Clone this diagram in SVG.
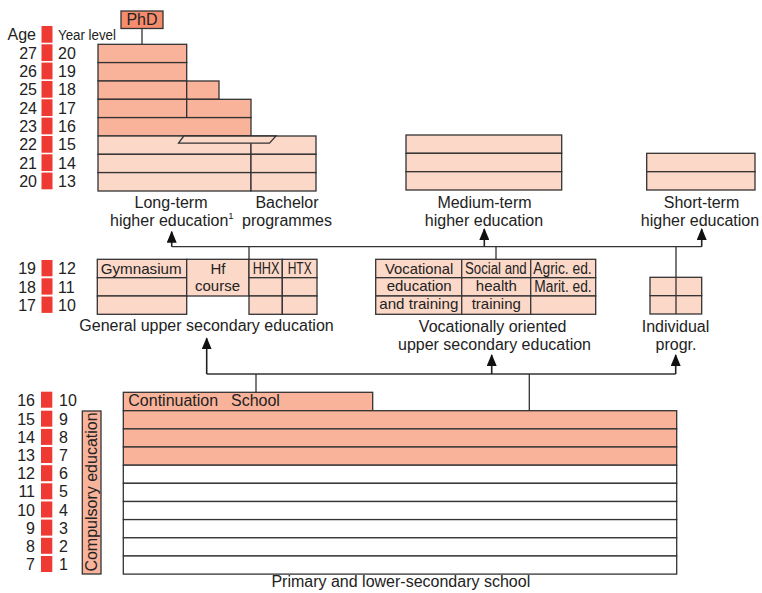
<svg xmlns="http://www.w3.org/2000/svg" width="762" height="593" viewBox="0 0 762 593">
<style>
text{font-family:"Liberation Sans",Arial,sans-serif;font-size:16px;fill:#222}
.s{font-size:15px}
.c{text-anchor:middle}
.r{text-anchor:end}
.n{font-size:14px}
.b{stroke:#333;stroke-width:1.3}
.dk{fill:#F9B39A}
.lt{fill:#FCD8C8}
.wh{fill:#fff}
.red{fill:#EE3A32}
.ln{stroke:#333;stroke-width:1.3;fill:none}
.ar{stroke:#222;stroke-width:1.6;fill:none;marker-end:url(#ah)}
</style>
<defs>
<marker id="ah" viewBox="0 0 12 10" refX="11" refY="5" markerWidth="12" markerHeight="10" markerUnits="userSpaceOnUse" orient="auto">
<path d="M0,0 L12,5 L0,10 Z" fill="#111"/>
</marker>
</defs>
<rect width="762" height="593" fill="#fff"/>

<g id="scale-top">
<text x="36" y="40.3" class="r">Age</text>
<rect x="41.5" y="26" width="11" height="16.7" class="red"/>
<text x="58" y="40.3" class="n" textLength="58" lengthAdjust="spacingAndGlyphs">Year level</text>
<rect x="41.5" y="44.3" width="11" height="16.7" class="red"/><text x="37" y="58.5" class="r">27</text><text x="58" y="58.5">20</text>
<rect x="41.5" y="62.6" width="11" height="16.7" class="red"/><text x="37" y="76.8" class="r">26</text><text x="58" y="76.8">19</text>
<rect x="41.5" y="81" width="11" height="16.7" class="red"/><text x="37" y="95.2" class="r">25</text><text x="58" y="95.2">18</text>
<rect x="41.5" y="99.3" width="11" height="16.7" class="red"/><text x="37" y="113.5" class="r">24</text><text x="58" y="113.5">17</text>
<rect x="41.5" y="117.6" width="11" height="16.7" class="red"/><text x="37" y="131.8" class="r">23</text><text x="58" y="131.8">16</text>
<rect x="41.5" y="136" width="11" height="16.7" class="red"/><text x="37" y="150.2" class="r">22</text><text x="58" y="150.2">15</text>
<rect x="41.5" y="154.3" width="11" height="16.7" class="red"/><text x="37" y="168.5" class="r">21</text><text x="58" y="168.5">14</text>
<rect x="41.5" y="172.6" width="11" height="16.7" class="red"/><text x="37" y="186.8" class="r">20</text><text x="58" y="186.8">13</text>
</g>

<g id="scale-mid">
<rect x="41.5" y="260" width="11" height="16.3" class="red"/><text x="36" y="274.3" class="r">19</text><text x="58" y="274.3">12</text>
<rect x="41.5" y="278.3" width="11" height="16.3" class="red"/><text x="36" y="292.6" class="r">18</text><text x="58" y="292.6">11</text>
<rect x="41.5" y="296.6" width="11" height="16.3" class="red"/><text x="36" y="310.9" class="r">17</text><text x="58" y="310.9">10</text>
</g>

<g id="scale-bottom">
<rect x="41" y="391.7" width="11.3" height="16" class="red"/><text x="35" y="406" class="r">16</text><text x="59" y="406">10</text>
<rect x="41" y="410.7" width="11.3" height="16" class="red"/><text x="35" y="424.7" class="r">15</text><text x="59" y="424.7">9</text>
<rect x="41" y="428.9" width="11.3" height="16" class="red"/><text x="35" y="442.9" class="r">14</text><text x="59" y="442.9">8</text>
<rect x="41" y="447" width="11.3" height="16" class="red"/><text x="35" y="461" class="r">13</text><text x="59" y="461">7</text>
<rect x="41" y="465.2" width="11.3" height="16" class="red"/><text x="35" y="479.2" class="r">12</text><text x="59" y="479.2">6</text>
<rect x="41" y="483.3" width="11.3" height="16" class="red"/><text x="35" y="497.3" class="r">11</text><text x="59" y="497.3">5</text>
<rect x="41" y="501.5" width="11.3" height="16" class="red"/><text x="35" y="515.5" class="r">10</text><text x="59" y="515.5">4</text>
<rect x="41" y="519.6" width="11.3" height="16" class="red"/><text x="35" y="533.6" class="r">9</text><text x="59" y="533.6">3</text>
<rect x="41" y="537.8" width="11.3" height="16" class="red"/><text x="35" y="551.8" class="r">8</text><text x="59" y="551.8">2</text>
<rect x="41" y="556" width="11.3" height="16" class="red"/><text x="35" y="570" class="r">7</text><text x="59" y="570">1</text>
</g>

<g id="compulsory">
<rect x="82.3" y="411" width="18.7" height="163" class="dk b"/>
<text transform="translate(96.7,492) rotate(-90)" class="c" font-size="15.5">Compulsory education</text>
</g>

<g id="phd">
<rect x="121" y="11" width="42" height="17.5" fill="#F58C6E" class="b"/>
<text x="142" y="25.3" class="c">PhD</text>
</g>

<g id="long-term">
<rect x="98" y="44.3" width="88.7" height="18.3" class="dk b"/>
<rect x="98" y="62.6" width="88.7" height="18.4" class="dk b"/>
<rect x="98" y="81" width="88.7" height="18.3" class="dk b"/>
<rect x="186.7" y="81" width="32.3" height="18.3" class="dk b"/>
<rect x="98" y="99.3" width="88.7" height="18.3" class="dk b"/>
<rect x="186.7" y="99.3" width="64.3" height="18.3" class="dk b"/>
<rect x="98" y="117.6" width="153" height="18.4" class="dk b"/>
<rect x="98" y="136" width="153" height="18.3" class="lt b"/>
<rect x="98" y="154.3" width="153" height="18.3" class="lt b"/>
<rect x="98" y="172.6" width="153" height="18.4" class="lt b"/>
<text x="171" y="208.3" class="c">Long-term</text>
<text x="110" y="225.7">higher education<tspan font-size="9.5" dy="-7">1</tspan></text>
</g>

<g id="bachelor">
<rect x="251" y="136" width="65" height="18.3" class="lt b"/>
<rect x="251" y="154.3" width="65" height="18.3" class="lt b"/>
<rect x="251" y="172.6" width="65" height="18.4" class="lt b"/>
<polygon points="178.5,143.2 183.8,136 276,136 269.5,143.2" class="lt b"/>
<text x="287" y="208.3" class="c">Bachelor</text>
<text x="287" y="225.7" class="c">programmes</text>
</g>

<g id="medium-term">
<rect x="406" y="135" width="155.7" height="18.3" class="lt b"/>
<rect x="406" y="153.3" width="155.7" height="18.4" class="lt b"/>
<rect x="406" y="171.7" width="155.7" height="18.3" class="lt b"/>
<text x="484.5" y="208.3" class="c">Medium-term</text>
<text x="484" y="225.7" class="c">higher education</text>
</g>

<g id="short-term">
<rect x="646.7" y="153.3" width="108.3" height="18.4" class="lt b"/>
<rect x="646.7" y="171.7" width="108.3" height="18.3" class="lt b"/>
<text x="701.5" y="208.3" class="c">Short-term</text>
<text x="700" y="225.7" class="c">higher education</text>
</g>

<g id="general-upper">
<rect x="97.3" y="259.3" width="89.4" height="18.4" class="lt b"/>
<rect x="97.3" y="277.7" width="89.4" height="18.3" class="lt b"/>
<rect x="97.3" y="296" width="89.4" height="18.3" class="lt b"/>
<rect x="186.7" y="259.3" width="62.3" height="36.7" class="lt b"/>
<rect x="249" y="259.3" width="33.3" height="18.4" class="lt b"/>
<rect x="249" y="277.7" width="33.3" height="18.3" class="lt b"/>
<rect x="249" y="296" width="33.3" height="18.3" class="lt b"/>
<rect x="282.3" y="259.3" width="34.7" height="18.4" class="lt b"/>
<rect x="282.3" y="277.7" width="34.7" height="18.3" class="lt b"/>
<rect x="282.3" y="296" width="34.7" height="18.3" class="lt b"/>
<text x="100.7" y="273.5" class="s" textLength="81" lengthAdjust="spacingAndGlyphs">Gymnasium</text>
<text x="218" y="273.5" class="c s">Hf</text>
<text x="217.5" y="290.5" class="c s">course</text>
<text x="252.7" y="273.5" font-size="14" textLength="26.7" lengthAdjust="spacingAndGlyphs">HHX</text>
<text x="287.7" y="273.5" font-size="14" textLength="24" lengthAdjust="spacingAndGlyphs">HTX</text>
<text x="206.5" y="330.5" class="c">General upper secondary education</text>
</g>

<g id="vocational">
<rect x="375.7" y="259.3" width="220" height="18.4" class="lt b"/>
<rect x="375.7" y="277.7" width="220" height="18.3" class="lt b"/>
<rect x="375.7" y="296" width="220" height="18.3" class="lt b"/>
<line x1="461.7" y1="259.3" x2="461.7" y2="314.3" class="ln"/>
<line x1="530.7" y1="259.3" x2="530.7" y2="314.3" class="ln"/>
<text x="419.2" y="273.5" class="c s" textLength="68.3" lengthAdjust="spacingAndGlyphs">Vocational</text>
<text x="419.2" y="291.3" class="c s">education</text>
<text x="418.8" y="308.8" class="c s" textLength="79" lengthAdjust="spacingAndGlyphs">and training</text>
<text x="465" y="273.5" font-size="14.5" textLength="61.7" lengthAdjust="spacingAndGlyphs">Social and</text>
<text x="496.3" y="291.3" class="c s">health</text>
<text x="496.3" y="308.8" class="c s">training</text>
<text x="533.3" y="273.5" font-size="14.5" textLength="58.4" lengthAdjust="spacingAndGlyphs">Agric. ed.</text>
<text x="534.3" y="292" font-size="14.5" textLength="57.4" lengthAdjust="spacingAndGlyphs">Marit. ed.</text>
<text x="492.7" y="332.3" class="c">Vocationally oriented</text>
<text x="494.5" y="349.5" class="c">upper secondary education</text>
</g>

<g id="individual">
<rect x="650" y="277.3" width="51.7" height="18.4" class="lt b"/>
<rect x="650" y="295.7" width="51.7" height="18.3" class="lt b"/>
<line x1="676" y1="277.3" x2="676" y2="314" class="ln"/>
<text x="675.5" y="332.3" class="c">Individual</text>
<text x="676" y="349.5" class="c">progr.</text>
</g>

<g id="continuation">
<rect x="123.3" y="392.3" width="249.4" height="18.4" class="dk b"/>
<text x="128.3" y="406">Continuation</text>
<text x="231" y="406">School</text>
</g>

<g id="primary">
<rect x="123.3" y="410.7" width="553.4" height="18.2" class="dk b"/>
<rect x="123.3" y="428.9" width="553.4" height="18.1" class="dk b"/>
<rect x="123.3" y="447" width="553.4" height="18.2" class="dk b"/>
<rect x="123.3" y="465.2" width="553.4" height="18.1" class="wh b"/>
<rect x="123.3" y="483.3" width="553.4" height="18.2" class="wh b"/>
<rect x="123.3" y="501.5" width="553.4" height="18.1" class="wh b"/>
<rect x="123.3" y="519.6" width="553.4" height="18.2" class="wh b"/>
<rect x="123.3" y="537.8" width="553.4" height="18.2" class="wh b"/>
<rect x="123.3" y="556" width="553.4" height="18.1" class="wh b"/>
<text x="400.8" y="587" class="c">Primary and lower-secondary school</text>
</g>

<g id="connectors">
<line x1="171.7" y1="246.7" x2="701.7" y2="246.7" class="ln"/>
<line x1="171.7" y1="246.7" x2="171.7" y2="231.7" class="ar"/>
<line x1="484.3" y1="246.7" x2="484.3" y2="229" class="ar"/>
<line x1="701.7" y1="246.7" x2="701.7" y2="229" class="ar"/>
<line x1="249" y1="246.7" x2="249" y2="259.3" class="ln"/>
<line x1="496" y1="246.7" x2="496" y2="259.3" class="ln"/>
<line x1="676" y1="246.7" x2="676" y2="277.3" class="ln"/>
<line x1="142" y1="28.5" x2="142" y2="44.3" class="ln"/>
<line x1="206.7" y1="374" x2="675.7" y2="374" class="ln"/>
<line x1="206.7" y1="374" x2="206.7" y2="338.3" class="ar"/>
<line x1="491.7" y1="374" x2="491.7" y2="355" class="ar"/>
<line x1="675.7" y1="374" x2="675.7" y2="355" class="ar"/>
<line x1="256" y1="374" x2="256" y2="392.3" class="ln"/>
<line x1="529.3" y1="374" x2="529.3" y2="410.7" class="ln"/>
</g>
</svg>
